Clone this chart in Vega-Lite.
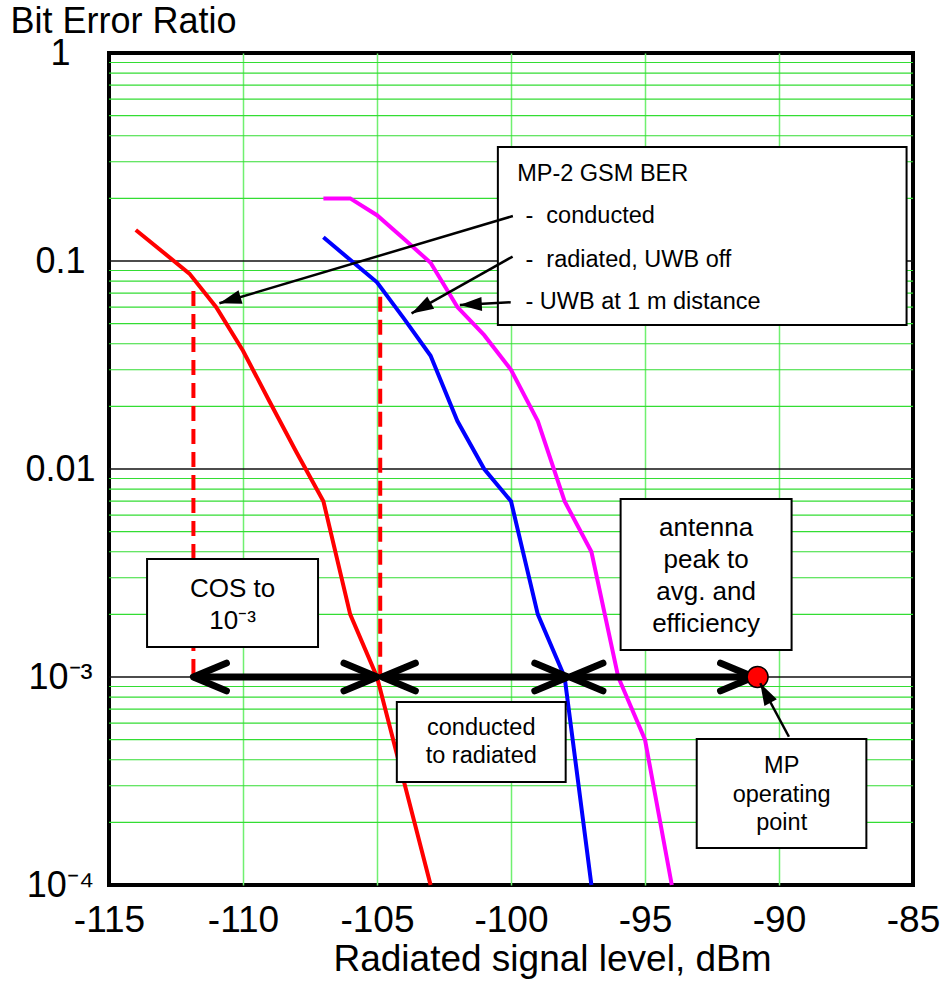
{
  "$schema": "https://vega.github.io/schema/vega-lite/v6.json",
  "width": 804,
  "height": 832,
  "autosize": {"type": "none"},
  "padding": {"left": 109, "top": 53, "right": 29, "bottom": 96},
  "background": "white",
  "config": {
    "view": {"stroke": "black", "strokeWidth": 4},
    "font": "Liberation Sans",
    "text": {"font": "Liberation Sans"}
  },
  "datasets": {
    "minor": [
      {"y": 0.9, "x": -115, "x2": -85}, {"y": 0.8, "x": -115, "x2": -85}, {"y": 0.7, "x": -115, "x2": -85}, {"y": 0.6, "x": -115, "x2": -85},
      {"y": 0.5, "x": -115, "x2": -85}, {"y": 0.4, "x": -115, "x2": -85}, {"y": 0.3, "x": -115, "x2": -85}, {"y": 0.2, "x": -115, "x2": -85},
      {"y": 0.09, "x": -115, "x2": -85}, {"y": 0.08, "x": -115, "x2": -85}, {"y": 0.07, "x": -115, "x2": -85}, {"y": 0.06, "x": -115, "x2": -85},
      {"y": 0.05, "x": -115, "x2": -85}, {"y": 0.04, "x": -115, "x2": -85}, {"y": 0.03, "x": -115, "x2": -85}, {"y": 0.02, "x": -115, "x2": -85},
      {"y": 0.009, "x": -115, "x2": -85}, {"y": 0.008, "x": -115, "x2": -85}, {"y": 0.007, "x": -115, "x2": -85}, {"y": 0.006, "x": -115, "x2": -85},
      {"y": 0.005, "x": -115, "x2": -85}, {"y": 0.004, "x": -115, "x2": -85}, {"y": 0.003, "x": -115, "x2": -85}, {"y": 0.002, "x": -115, "x2": -85},
      {"y": 0.0009, "x": -115, "x2": -85}, {"y": 0.0008, "x": -115, "x2": -85}, {"y": 0.0007, "x": -115, "x2": -85}, {"y": 0.0006, "x": -115, "x2": -85},
      {"y": 0.0005, "x": -115, "x2": -85}, {"y": 0.0004, "x": -115, "x2": -85}, {"y": 0.0003, "x": -115, "x2": -85}, {"y": 0.0002, "x": -115, "x2": -85}
    ],
    "decades": [
      {"y": 0.1, "x": -115, "x2": -85},
      {"y": 0.01, "x": -115, "x2": -85},
      {"y": 0.001, "x": -115, "x2": -85}
    ],
    "curves": [
      {"s": "conducted", "x": -114, "y": 0.141},
      {"s": "conducted", "x": -112, "y": 0.087},
      {"s": "conducted", "x": -111, "y": 0.06},
      {"s": "conducted", "x": -110, "y": 0.037},
      {"s": "conducted", "x": -109, "y": 0.021},
      {"s": "conducted", "x": -108, "y": 0.012},
      {"s": "conducted", "x": -107, "y": 0.007},
      {"s": "conducted", "x": -106, "y": 0.002},
      {"s": "conducted", "x": -105, "y": 0.001},
      {"s": "conducted", "x": -103, "y": 0.0001},
      {"s": "radiated", "x": -107, "y": 0.13},
      {"s": "radiated", "x": -105, "y": 0.079},
      {"s": "radiated", "x": -104, "y": 0.053},
      {"s": "radiated", "x": -103, "y": 0.035},
      {"s": "radiated", "x": -102, "y": 0.017},
      {"s": "radiated", "x": -101, "y": 0.01},
      {"s": "radiated", "x": -100, "y": 0.007},
      {"s": "radiated", "x": -99, "y": 0.002},
      {"s": "radiated", "x": -98, "y": 0.001},
      {"s": "radiated", "x": -97, "y": 0.0001},
      {"s": "uwb", "x": -107, "y": 0.2},
      {"s": "uwb", "x": -106, "y": 0.2},
      {"s": "uwb", "x": -105, "y": 0.166},
      {"s": "uwb", "x": -104, "y": 0.128},
      {"s": "uwb", "x": -103, "y": 0.098},
      {"s": "uwb", "x": -102, "y": 0.06},
      {"s": "uwb", "x": -101, "y": 0.044},
      {"s": "uwb", "x": -100, "y": 0.03},
      {"s": "uwb", "x": -99, "y": 0.017},
      {"s": "uwb", "x": -98, "y": 0.007},
      {"s": "uwb", "x": -97, "y": 0.004},
      {"s": "uwb", "x": -96, "y": 0.001},
      {"s": "uwb", "x": -95, "y": 0.0005},
      {"s": "uwb", "x": -94, "y": 0.0001}
    ],
    "dashes": [
      {"x": -111.85, "y": 0.0717, "y2": 0.001},
      {"x": -104.88, "y": 0.0673, "y2": 0.001}
    ],
    "boxes": [
      {"x": -100.49, "x2": -85.24, "y": 0.353, "y2": 0.0492},
      {"x": -113.58, "x2": -107.2, "y": 0.003693, "y2": 0.001394},
      {"x": -104.26, "x2": -97.96, "y": 0.000758, "y2": 0.0003127},
      {"x": -95.91, "x2": -89.53, "y": 0.007176, "y2": 0.001348},
      {"x": -93.07, "x2": -86.74, "y": 0.0005035, "y2": 0.0001507}
    ],
    "spans": [
      {"x": -111.85, "x2": -105.0, "y": 0.001},
      {"x": -104.8, "x2": -97.88, "y": 0.001},
      {"x": -97.8, "x2": -90.95, "y": 0.001}
    ],
    "ltips": [
      {"x": -111.85, "y": 0.001},
      {"x": -104.8, "y": 0.001},
      {"x": -97.8, "y": 0.001}
    ],
    "rtips": [
      {"x": -105.0, "y": 0.001},
      {"x": -97.88, "y": 0.001},
      {"x": -90.95, "y": 0.001}
    ],
    "dot": [{"x": -90.8, "y": 0.001}],
    "thin": [
      {"x": -99.93, "y": 0.1645, "x2": -110.88, "y2": 0.0626},
      {"x": -99.94, "y": 0.105, "x2": -103.71, "y2": 0.056},
      {"x": -100.01, "y": 0.0633, "x2": -101.91, "y2": 0.0614},
      {"x": -89.63, "y": 0.000516, "x2": -90.7, "y2": 0.000933}
    ],
    "heads": [
      {"id": 1, "x": -110.88, "y": 0.0626},
      {"id": 2, "x": -103.71, "y": 0.056},
      {"id": 3, "x": -101.91, "y": 0.0614},
      {"id": 4, "x": -90.7, "y": 0.000933}
    ],
    "legendText": [
      {"x": -99.77, "y": 0.2432, "t": "MP-2 GSM BER"},
      {"x": -99.46, "y": 0.1518, "t": "-\u00a0\u00a0conducted"},
      {"x": -99.46, "y": 0.0939, "t": "-\u00a0\u00a0radiated, UWB off"},
      {"x": -99.46, "y": 0.0586, "t": "- UWB at 1 m distance"}
    ],
    "bigText": [
      {"x": -110.39, "y": 0.002432, "t": "COS to\n10⁻³"},
      {"x": -92.72, "y": 0.004763, "t": "antenna\npeak to\navg. and\nefficiency"}
    ],
    "smallText": [
      {"x": -101.11, "y": 0.000526, "t": "conducted\nto radiated"},
      {"x": -89.9, "y": 0.000344, "t": "MP\noperating\npoint"}
    ]
  },
  "encoding": {
    "x": {
      "field": "x",
      "type": "quantitative",
      "scale": {"domain": [-115, -85], "nice": false, "zero": false},
      "axis": {
        "title": "Radiated signal level, dBm",
        "values": [-115, -110, -105, -100, -95, -90, -85],
        "labelExpr": "'' + datum.value",
        "labelFontSize": 37,
        "labelFont": "Liberation Sans",
        "labelColor": "black",
        "labelPadding": 17,
        "labelFlush": false,
        "labelOverlap": false,
        "ticks": false,
        "tickSize": 0,
        "domain": false,
        "grid": true,
        "gridColor": {"condition": {"test": "datum.value <= -115 || datum.value >= -85", "value": "transparent"}, "value": "#70f070"},
        "gridWidth": 1.5,
        "gridOpacity": 1,
        "titleFontSize": 37,
        "titleFont": "Liberation Sans",
        "titleFontWeight": "normal",
        "titleColor": "black",
        "titleX": 443,
        "titleY": 85,
        "titleAlign": "center",
        "titleBaseline": "alphabetic"
      }
    },
    "y": {
      "field": "y",
      "type": "quantitative",
      "scale": {"type": "log", "domain": [0.0001, 1], "nice": false},
      "axis": {
        "title": "Bit Error Ratio",
        "values": [1, 0.1, 0.01, 0.001, 0.0001],
        "labelExpr": "datum.value == 1 ? '1' : datum.value == 0.1 ? '0.1' : datum.value == 0.01 ? '0.01' : datum.value == 0.001 ? '10⁻³' : '10⁻⁴'",
        "labelFontSize": 36,
        "labelFont": "Liberation Sans",
        "labelColor": "black",
        "labelAlign": "center",
        "labelBaseline": "middle",
        "labelPadding": 49,
        "labelFlush": false,
        "labelOverlap": false,
        "ticks": false,
        "tickSize": 0,
        "domain": false,
        "grid": false,
        "titleFontSize": 36,
        "titleFont": "Liberation Sans",
        "titleFontWeight": "normal",
        "titleColor": "black",
        "titleAngle": 0,
        "titleX": -99,
        "titleY": -21,
        "titleAlign": "left",
        "titleBaseline": "alphabetic"
      }
    }
  },
  "layer": [
    {
      "data": {"name": "minor"},
      "mark": {"type": "rule", "color": "#33dd33", "strokeWidth": 1.2},
      "encoding": {"x2": {"field": "x2"}}
    },
    {
      "data": {"name": "decades"},
      "mark": {"type": "rule", "color": "#111111", "strokeWidth": 1.6},
      "encoding": {"x2": {"field": "x2"}}
    },
    {
      "data": {"name": "curves"},
      "mark": {"type": "line", "strokeWidth": 4},
      "encoding": {
        "color": {"field": "s", "type": "nominal", "scale": {"domain": ["conducted", "radiated", "uwb"], "range": ["#ff0000", "#0000ff", "#ff00ff"]}, "legend": null}
      }
    },
    {
      "data": {"name": "dashes"},
      "mark": {"type": "rule", "color": "#ff0000", "strokeWidth": 4, "strokeDash": [15, 8]},
      "encoding": {"y2": {"field": "y2"}}
    },
    {
      "data": {"name": "boxes"},
      "mark": {"type": "rect", "fill": "white", "stroke": "black", "strokeWidth": 2},
      "encoding": {"x2": {"field": "x2"}, "y2": {"field": "y2"}}
    },
    {
      "data": {"name": "spans"},
      "mark": {"type": "rule", "color": "black", "strokeWidth": 7},
      "encoding": {"x2": {"field": "x2"}}
    },
    {
      "data": {"name": "ltips"},
      "mark": {"type": "point", "shape": "M1,-0.42L0,0L1,0.42", "size": 4356, "filled": false, "stroke": "black", "strokeWidth": 7, "strokeCap": "round", "strokeJoin": "round", "opacity": 1}
    },
    {
      "data": {"name": "rtips"},
      "mark": {"type": "point", "shape": "M-1,-0.42L0,0L-1,0.42", "size": 4356, "filled": false, "stroke": "black", "strokeWidth": 7, "strokeCap": "round", "strokeJoin": "round", "opacity": 1}
    },
    {
      "data": {"name": "dot"},
      "mark": {"type": "point", "shape": "circle", "size": 440, "filled": true, "fill": "#ff0000", "stroke": "black", "strokeWidth": 1.5, "opacity": 1}
    },
    {
      "data": {"name": "thin"},
      "mark": {"type": "rule", "color": "black", "strokeWidth": 2.5},
      "encoding": {"x2": {"field": "x2"}, "y2": {"field": "y2"}}
    },
    {
      "data": {"name": "heads"},
      "transform": [{"filter": "datum.id == 1"}],
      "mark": {"type": "point", "shape": "M0,0L0.32,1L-0.32,1Z", "size": 1936, "filled": true, "color": "black", "opacity": 1, "angle": 253.5}
    },
    {
      "data": {"name": "heads"},
      "transform": [{"filter": "datum.id == 2"}],
      "mark": {"type": "point", "shape": "M0,0L0.32,1L-0.32,1Z", "size": 1936, "filled": true, "color": "black", "opacity": 1, "angle": 240.7}
    },
    {
      "data": {"name": "heads"},
      "transform": [{"filter": "datum.id == 3"}],
      "mark": {"type": "point", "shape": "M0,0L0.32,1L-0.32,1Z", "size": 1936, "filled": true, "color": "black", "opacity": 1, "angle": 267}
    },
    {
      "data": {"name": "heads"},
      "transform": [{"filter": "datum.id == 4"}],
      "mark": {"type": "point", "shape": "M0,0L0.32,1L-0.32,1Z", "size": 1936, "filled": true, "color": "black", "opacity": 1, "angle": 331.8}
    },
    {
      "data": {"name": "legendText"},
      "mark": {"type": "text", "align": "left", "baseline": "alphabetic", "fontSize": 23.5, "font": "Liberation Sans", "color": "black"},
      "encoding": {"text": {"field": "t"}}
    },
    {
      "data": {"name": "bigText"},
      "mark": {"type": "text", "align": "center", "baseline": "alphabetic", "fontSize": 26, "lineHeight": 32, "lineBreak": "\n", "font": "Liberation Sans", "color": "black"},
      "encoding": {"text": {"field": "t"}}
    },
    {
      "data": {"name": "smallText"},
      "mark": {"type": "text", "align": "center", "baseline": "alphabetic", "fontSize": 23.5, "lineHeight": 28.3, "lineBreak": "\n", "font": "Liberation Sans", "color": "black"},
      "encoding": {"text": {"field": "t"}}
    }
  ]
}
